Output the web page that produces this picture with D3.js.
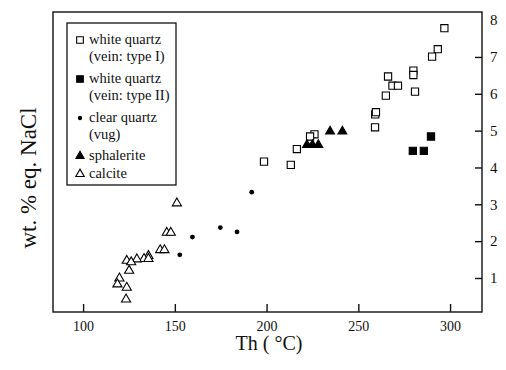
<!DOCTYPE html>
<html>
<head>
<meta charset="utf-8">
<script src="https://cdn.jsdelivr.net/npm/d3@7"></script>
<style>
  body { margin: 0; background: #fff; }
  svg, svg text { font-family: "Liberation Serif", "Times New Roman", Times, "DejaVu Serif", serif; }
</style>
</head>
<body>
<div id="chart"></div>
<script>
// --- data: Th (°C) vs salinity (wt.% eq. NaCl) ---
const quartzI_th  = [296.9, 293.3, 290.2, 280.0, 280.0, 280.9, 266.2, 268.6, 271.6, 265.0, 259.2, 259.6, 259.1, 226.1, 223.7, 216.5, 198.6, 213.2];
const quartzI_sal = [7.78, 7.21, 7.01, 6.63, 6.51, 6.06, 6.47, 6.22, 6.22, 5.95, 5.44, 5.50, 5.09, 4.90, 4.84, 4.50, 4.16, 4.07];

const quartzII_th  = [289.6, 279.7, 285.7];
const quartzII_sal = [4.84, 4.45, 4.45];

const clear_th  = [191.9, 174.8, 183.9, 159.6, 152.7];
const clear_sal = [3.33, 2.37, 2.25, 2.11, 1.63];

const sphal_th  = [234.6, 241.3, 222.0, 225.0, 228.2];
const sphal_sal = [4.98, 4.98, 4.61, 4.61, 4.61];

const calcite_th  = [151.1, 145.6, 147.8, 142.0, 144.3, 135.6, 133.2, 135.6, 129.3, 123.8, 126.2, 125.1, 119.8, 118.7, 123.8, 123.4];
const calcite_sal = [3.03, 2.23, 2.23, 1.76, 1.76, 1.60, 1.52, 1.52, 1.51, 1.47, 1.43, 1.20, 0.99, 0.83, 0.74, 0.42];

const xTicks = [100, 150, 200, 250, 300];
const yTicks = [1, 2, 3, 4, 5, 6, 7, 8];

const legendLines = [
  ["white quartz", "(vein: type I)"],
  ["white quartz", "(vein: type II)"],
  ["clear quartz", "(vug)"],
  ["sphalerite"],
  ["calcite"]
];

// --- layout ---
const width = 506, height = 370;
const plot = { left: 53, right: 482, top: 12, bottom: 312 };
const serif = "'Liberation Serif', 'Times New Roman', Times, serif";

const svg = d3.select("#chart").append("svg")
  .attr("width", width)
  .attr("height", height)
  .attr("font-family", serif);

const x = d3.scaleLinear().domain([83.6, 317.4]).range([plot.left, plot.right]);
const y = d3.scaleLinear().domain([0.077, 8.22]).range([plot.bottom, plot.top]);

// marker styles per series
const series = [
  { th: quartzI_th,  sal: quartzI_sal,  type: d3.symbolSquare,   size: 52, fill: "#fff", stroke: "#000" },
  { th: quartzII_th, sal: quartzII_sal, type: d3.symbolSquare,   size: 52, fill: "#000", stroke: "#000" },
  { th: clear_th,    sal: clear_sal,    type: d3.symbolCircle,   size: 18, fill: "#000", stroke: "none" },
  { th: sphal_th,    sal: sphal_sal,    type: d3.symbolTriangle, size: 34, fill: "#000", stroke: "#000" },
  { th: calcite_th,  sal: calcite_sal,  type: d3.symbolTriangle, size: 36, fill: "#fff", stroke: "#000" }
];

// frame
svg.append("rect")
  .attr("x", plot.left).attr("y", plot.top)
  .attr("width", plot.right - plot.left)
  .attr("height", plot.bottom - plot.top)
  .attr("fill", "none")
  .attr("stroke", "#111")
  .attr("stroke-width", 1.4);

// x axis (ticks point inward)
const xAxis = svg.append("g")
  .attr("transform", `translate(0,${plot.bottom})`)
  .call(d3.axisBottom(x).tickValues(xTicks).tickSizeInner(-8).tickSizeOuter(0).tickPadding(9));
xAxis.attr("font-family", serif);
xAxis.select(".domain").remove();
xAxis.selectAll("line").attr("stroke", "#111").attr("stroke-width", 1.4);
xAxis.selectAll("text").attr("font-size", 14).attr("fill", "#111");

// y axis on the right (ticks point inward)
const yAxis = svg.append("g")
  .attr("transform", `translate(${plot.right},0)`)
  .call(d3.axisRight(y).tickValues(yTicks).tickSizeInner(-7).tickSizeOuter(0).tickPadding(8));
yAxis.attr("font-family", serif);
yAxis.select(".domain").remove();
yAxis.selectAll("line").attr("stroke", "#111").attr("stroke-width", 1.4);
yAxis.selectAll(".tick").filter(d => d === 8).select("line").remove();
yAxis.selectAll("text").attr("font-size", 15).attr("fill", "#111");

// axis titles
svg.append("text")
  .attr("x", 269).attr("y", 350)
  .attr("text-anchor", "middle")
  .attr("font-size", 20)
  .attr("fill", "#111")
  .text("Th ( °C)");

svg.append("text")
  .attr("transform", "translate(36,178) rotate(-90)")
  .attr("text-anchor", "middle")
  .attr("font-size", 23)
  .attr("fill", "#111")
  .text("wt. % eq. NaCl");

// points
series.forEach(s => {
  svg.append("g").selectAll("path")
    .data(s.th.map((t, i) => [t, s.sal[i]]))
    .join("path")
    .attr("transform", d => `translate(${x(d[0])},${y(d[1])})`)
    .attr("d", d3.symbol().type(s.type).size(s.size))
    .attr("fill", s.fill)
    .attr("stroke", s.stroke)
    .attr("stroke-width", 1.1);
});

// legend box
const legend = svg.append("g");
legend.append("rect")
  .attr("x", 67).attr("y", 23)
  .attr("width", 109).attr("height", 162)
  .attr("fill", "#fff")
  .attr("stroke", "#111")
  .attr("stroke-width", 1.3);

const rowBase = [44, 83, 122, 160, 178];
legendLines.forEach((lines, i) => {
  const s = series[i];
  legend.append("path")
    .attr("transform", `translate(80,${rowBase[i] - 4})`)
    .attr("d", d3.symbol().type(s.type).size(s.size * 0.85))
    .attr("fill", s.fill)
    .attr("stroke", s.stroke)
    .attr("stroke-width", 1.1);
  lines.forEach((t, j) => {
    legend.append("text")
      .attr("x", 89)
      .attr("y", rowBase[i] + j * 17)
      .attr("font-size", 14.5)
      .attr("fill", "#111")
      .text(t);
  });
});
</script>
</body>
</html>
